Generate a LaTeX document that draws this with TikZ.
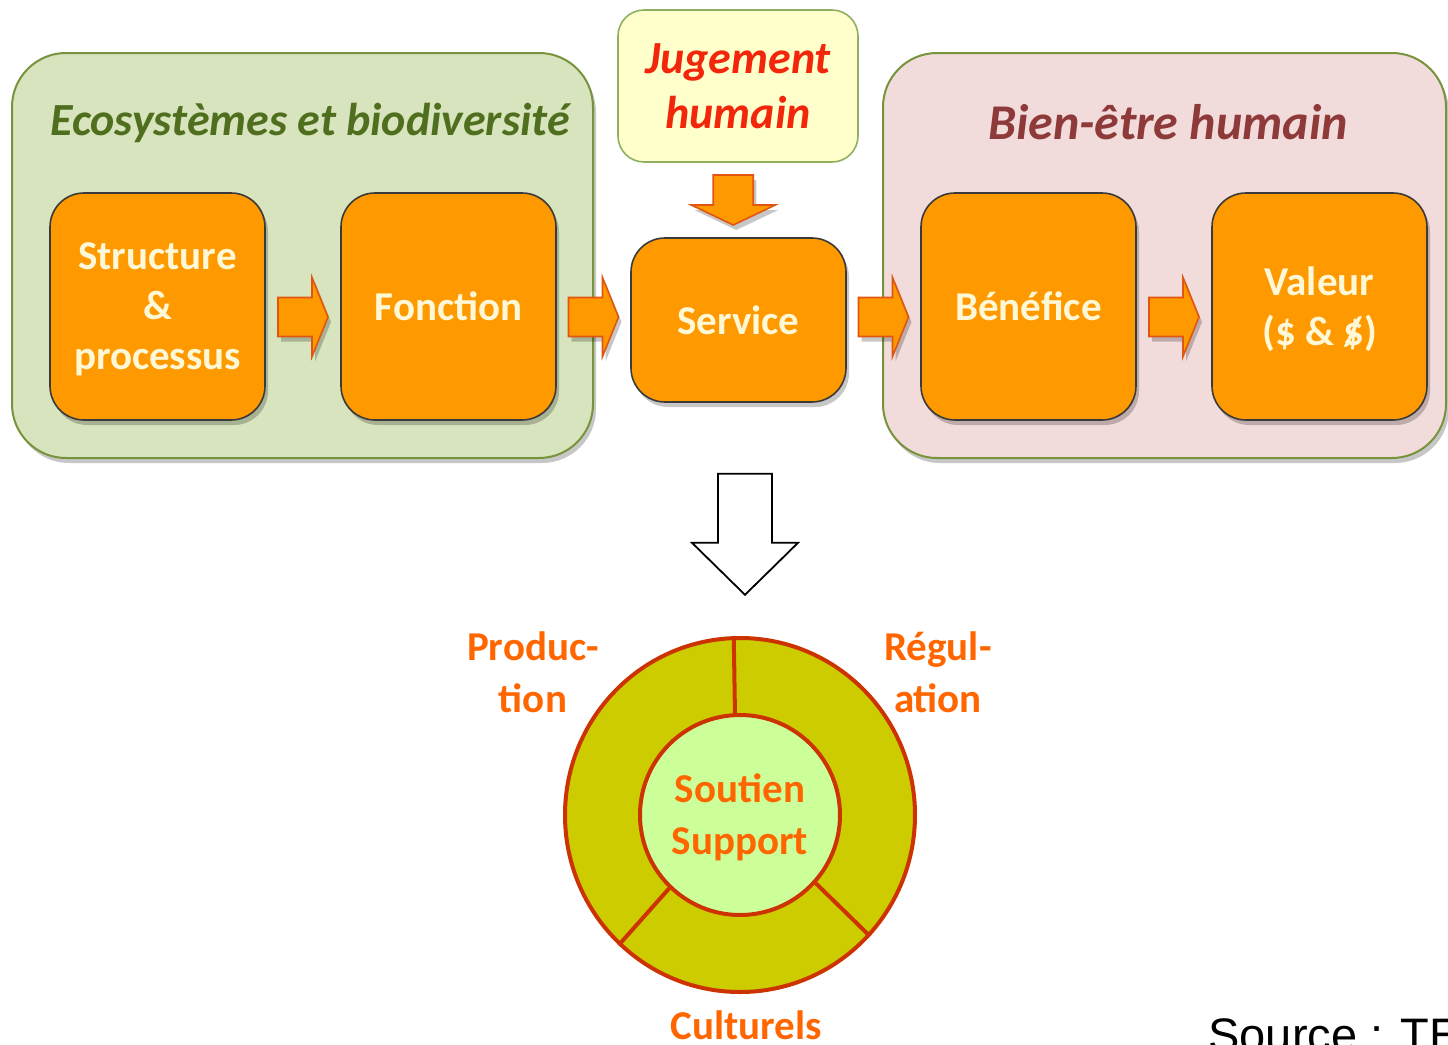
\documentclass[tikz,border=0pt]{standalone}
\usepackage{fontspec}
\setmainfont{Carlito}
\newfontfamily\arialfont{Liberation Sans}
\usetikzlibrary{shapes.geometric,shadows,calc}
\definecolor{boxorange}{HTML}{FF9900}
\definecolor{boxedge}{HTML}{3A3A3A}
\definecolor{ecofill}{HTML}{D7E4BD}
\definecolor{ecoedge}{HTML}{77933C}
\definecolor{ecotext}{HTML}{4F6E1E}
\definecolor{wellfill}{HTML}{F2DCDB}
\definecolor{welltext}{HTML}{8E3A3A}
\definecolor{judgefill}{HTML}{FFFFCC}
\definecolor{judgeedge}{HTML}{8FB060}
\definecolor{judgetext}{HTML}{F2260A}
\definecolor{boxtext}{HTML}{FFF8D6}
\definecolor{arrowedge}{HTML}{E0550F}
\definecolor{ringfill}{HTML}{CCCC00}
\definecolor{ringedge}{HTML}{CC3300}
\definecolor{corefill}{HTML}{CCFF99}
\definecolor{labelorange}{HTML}{FF6600}
\newcommand{\slashdollar}{\ooalign{\$\cr\hidewidth/\hidewidth\cr}}
\begin{document}
\begin{tikzpicture}[x=0.5pt,y=-0.5pt,
  softshadow/.style={drop shadow={shadow xshift=1.5pt, shadow yshift=-2.5pt, opacity=0.22, fill=black}},
  groupbox/.style={draw=ecoedge, line width=1pt, rounded corners=27pt, inner sep=0, softshadow},
  grouptitle/.style={font=\bfseries\itshape\fontsize{23}{27}\selectfont, inner sep=0},
  stepbox/.style={rectangle, fill=boxorange, draw=boxedge, line width=0.8pt, rounded corners=17pt,
    minimum width=107.5pt, minimum height=113.5pt, inner sep=0, align=center,
    text=boxtext, font=\bfseries\fontsize{20.5}{25}\selectfont, softshadow},
  blockarrow/.style={fill=boxorange, draw=arrowedge, line width=0.8pt, line join=miter, softshadow},
  hollowarrow/.style={fill=white, draw=black, line width=0.9pt, line join=miter},
  ringline/.style={draw=ringedge, line width=2pt},
  circlabel/.style={text=labelorange, font=\bfseries\fontsize{20.5}{26}\selectfont, align=center, inner sep=0}
]
\useasboundingbox (0,0) rectangle (1448,1045);

% groups
\node[groupbox, fill=ecofill, minimum width=290.5pt, minimum height=202.5pt] (eco) at (302.5,255.5) {};
\node[groupbox, fill=wellfill, minimum width=281.5pt, minimum height=202.5pt] (well) at (1164.5,255.5) {};
\node[grouptitle, text=ecotext] (ecot) at (310,123) {Ecosystèmes et biodiversité};
\node[grouptitle, text=welltext, font=\bfseries\itshape\fontsize{25}{29}\selectfont] (wellt) at (1168,122) {Bien-être humain};

% judgement
\node[rectangle, fill=judgefill, draw=judgeedge, line width=0.8pt, rounded corners=13pt,
  minimum width=120pt, minimum height=76pt, inner sep=0, align=center, text=judgetext, text depth=-2pt,
  font=\bfseries\itshape\fontsize{23}{27.5}\selectfont] (jg) at (738,86) {Jugement\\humain};

% steps
\node[stepbox, text depth=0pt] (sp) at (157.5,306.5) {Structure\\\&\\processus};
\node[stepbox] (fn) at (448.5,306.5) {Fonction};
\node[stepbox, minimum height=82pt] (sv) at (738.5,320) {Service};
\node[stepbox] (bn) at (1028.5,306.5) {Bénéfice};
\node[stepbox, text depth=0pt] (vl) at (1319.5,306.5) {Valeur\\(\$ \& \slashdollar)};

% arrow positions
\coordinate (m1) at ($(sp.east)!0.5!(fn.west)+(0,10.5)$);
\coordinate (m2r) at ($(fn.east)!0.5!(sv.west)$);
\coordinate (m3r) at ($(sv.east)!0.5!(bn.west)$);
\coordinate (m4r) at ($(bn.east)!0.5!(vl.west)$);
\coordinate (m2) at (m2r |- m1);
\coordinate (m3) at (m3r |- m1);
\coordinate (m4) at (m4r |- m1);
\coordinate (m5) at ($(jg.south)!0.5!(sv.north)+(-5,0)$);
\coordinate (m6) at ($(sv.south)+(6.5,131)$);

\foreach \m in {m1,m2,m3,m4}{
  \draw[blockarrow, shift={(\m)}] (-25,-19.5) -- (9,-19.5) -- (9,-39.5) -- (25,0) -- (9,39.5) -- (9,19.5) -- (-25,19.5) -- cycle;
}
\draw[blockarrow, shift={(m5)}] (-20,-25) -- (-20,5) -- (-42,5) -- (0,25) -- (42,5) -- (20,5) -- (20,-25) -- cycle;
\draw[hollowarrow, shift={(m6)}] (-27,-60) -- (-27,9) -- (-53,9) -- (0,61) -- (53,9) -- (27,9) -- (27,-60) -- cycle;

% services wheel
\node[ellipse, fill=ringfill, ringline, minimum width=175pt, minimum height=177pt, inner sep=0] (outer) at (740,815) {};
\draw[ringline] (outer.92) -- ($(outer.center)+(-5,-100)$) coordinate (ctop);
\node[circle, fill=corefill, ringline, minimum size=100pt, inner sep=0, circlabel, text depth=0.5pt] (inner) at (outer.center) {Soutien\\Support};
\draw[ringline] (inner.-134) -- (outer.-133);
\draw[ringline] (inner.-42) -- (outer.-43);

\node[circlabel] (prod) at (533,672) {Produc-\\tion};
\node[circlabel] (regu) at (938,672) {Régul-\\ation};
\node[circlabel] (cult) at (746,1025) {Culturels};

\node[anchor=base west, inner sep=0, font=\arialfont\fontsize{23.5}{28}\selectfont] (src) at (1208,1051) {Source : TE};
\end{tikzpicture}
\end{document}
